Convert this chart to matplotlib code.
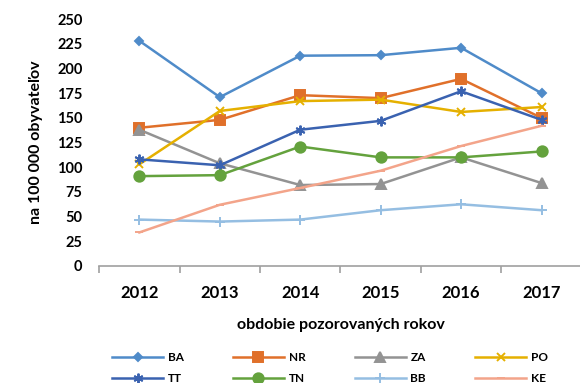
import matplotlib.pyplot as plt

plt.rcParams['font.family'] = ['Lato', 'DejaVu Sans']
plt.rcParams['font.weight'] = 'bold'

roky = ['2012', '2013', '2014', '2015', '2016', '2017']

ba = [228, 171, 213, 213.5, 221, 175]
nr = [140, 148, 173, 170, 189.5, 150]
za = [138, 104, 82, 83, 110, 84]
po = [103, 157, 167, 168.5, 156, 161]
tt = [108, 102, 138, 147, 177, 148]
tn = [91, 92, 121, 110, 110, 116]
bb = [47, 45, 47, 56.5, 62.5, 56.5]
ke = [34, 62, 79, 96.5, 121.5, 142]

serie = [
    ('BA', ba, '#4F8BC9', 'D', 4.5),
    ('NR', nr, '#E0702A', 's', 6.5),
    ('ZA', za, '#939393', '^', 6.5),
    ('PO', po, '#E5B000', 'x', 6),
    ('TT', tt, '#3A62B0', (6, 2, 0), 7),
    ('TN', tn, '#64A23D', 'o', 7.5),
    ('BB', bb, '#95BEE2', '+', 6.5),
    ('KE', ke, '#F3A48A', '_', 6),
]

fig = plt.figure(figsize=(5.8, 3.83), dpi=100)
ax = fig.add_axes([0.171, 0.3055, 0.832, 0.6445])

x = list(range(len(roky)))
ciary = {}
for nazov, hodnoty, farba, marker, ms in serie:
    ciary[nazov], = ax.plot(x, hodnoty, color=farba, lw=1.8, marker=marker,
                            markersize=ms, markeredgewidth=1.4, label=nazov)

ax.set_xlim(-0.5, 5.5)
ax.set_ylim(0, 250)
ax.set_yticks(range(0, 251, 25))
ax.set_xticks(x)
ax.set_xticklabels(roky, fontsize=12, fontweight='bold')
ax.set_xticks([i - 0.5 for i in range(7)], minor=True)
ax.tick_params(axis='x', which='major', length=0, pad=14)
ax.tick_params(axis='x', which='minor', length=5, color='#A0A0A0', width=1.2)
ax.tick_params(axis='y', length=0, labelsize=10.5, pad=12)
for t in ax.get_yticklabels():
    t.set_fontweight('bold')

for s in ['top', 'right', 'left']:
    ax.spines[s].set_visible(False)
ax.spines['bottom'].set_color('#A0A0A0')
ax.spines['bottom'].set_linewidth(1.2)

ax.set_ylabel('na 100 000 obyvateľov', fontsize=11.5, fontweight='bold', labelpad=10)
ax.set_xlabel('obdobie pozorovaných rokov', fontsize=11.5, fontweight='bold', labelpad=12)

# legenda sa plni po stlpcoch, preto poradie BA, TT, NR, TN, ...
poradie = ['BA', 'TT', 'NR', 'TN', 'ZA', 'BB', 'PO', 'KE']
fig.legend([ciary[n] for n in poradie], poradie, loc='lower left',
           bbox_to_anchor=(0.175, -0.03), ncol=4, frameon=False,
           handlelength=4.3, columnspacing=4.2, handletextpad=0.4,
           labelspacing=0.85, prop={'weight': 'bold', 'size': 8.5})

fig.savefig('out.png', dpi=100)
